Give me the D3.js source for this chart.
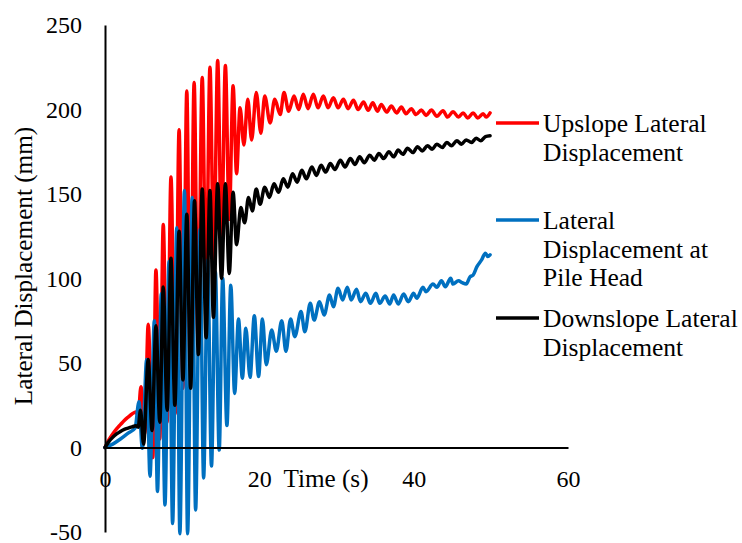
<!DOCTYPE html>
<html>
<head>
<meta charset="utf-8">
<script src="https://cdn.jsdelivr.net/npm/d3@7"></script>
<style>
  html, body { margin: 0; padding: 0; background: #fff; }
  svg { display: block; }
  svg text { font-family: "Liberation Serif", "Times New Roman", Times, "DejaVu Serif", serif !important; fill: #000; }
</style>
</head>
<body>
<div id="chart"></div>
<script>
// ---- Data (extrema of the oscillations) ----
const timeTicks = [0, 20, 40, 60];
const dispTicks = [-50, 0, 50, 100, 150, 200, 250];

const seriesNames = ["Upslope Lateral Displacement", "Lateral Displacement at Pile Head", "Downslope Lateral Displacement"];
const seriesColors = ["#FF0000", "#0070C0", "#000000"];

const upslopeT = [0,0.5,1,1.5,2,2.5,3,3.5,4,4.3,4.66,5.15,5.6,6.2,6.6,7.1,7.55,8.05,8.55,9.1,9.6,10.1,10.6,11.05,11.55,12.05,12.6,13.1,13.6,14.1,14.6,15.1,15.6,16.1,16.6,17.05,17.5,18.0,18.5,19.0,19.6,20.2,20.7,21.4,22.0,22.7,23.2,23.8,24.5,25.1,25.7,26.3,27.0,27.6,28.3,28.9,29.6,30.2,30.9,31.5,32.2,32.8,33.5,34.1,34.7,35.3,35.8,36.5,37.1,37.8,38.4,39.0,39.7,40.3,41.0,41.6,42.3,43.0,43.8,44.4,45.1,45.8,46.4,47.0,47.7,48.3,49.0,49.4,49.9];
const upslopeV = [0,4.5,8,11,13.5,16,18,19.8,21,19,36,8,73,-6,105,5,132,15,160,20,188,35,211,45,216,65,219,90,225,110,229,122,226,135,214,162,201,179,206,182,210,186,208,192,206,197,210,199,208,200,209,200.5,209,201,208,201,207,201,206,200.5,205.5,200,204.5,199.5,204,199,203,198.5,202,198,201.5,197.5,200.5,197,199.7,196.5,199.7,196,199.3,195.5,198.7,195.5,198,195,198,195,197.5,195.5,198];

const pileHeadT = [0,1,2,3,3.9,4.4,4.84,5.4,5.83,6.4,6.8,7.3,7.77,8.3,8.76,9.3,9.7,10.3,10.7,11.3,11.74,12.3,12.78,13.3,13.8,14.3,14.8,15.25,15.8,16.3,16.8,17.3,17.8,18.25,18.8,19.35,19.9,20.4,20.9,21.6,22.2,22.9,23.45,24.05,24.6,25.4,25.9,26.6,27.1,27.8,28.4,29.1,29.6,30.2,30.8,31.4,31.9,32.6,33.1,33.8,34.4,35.1,35.6,36.3,36.9,37.4,38.0,38.7,39.3,40.0,40.4,41.2,41.6,42.5,43.0,43.6,44.1,44.8,45.1,45.8,46.3,46.8,47.3,47.7,48.2,48.8,49.3,49.6,49.9];
const pileHeadV = [0,2,5,8.5,11.5,27,-0.5,52,-17,75,-26,91,-34,110,-45,130,-51,152,-51,148,-37,129,-18,111,-11,104,-1.5,100,13,96,32,76,41,70.5,41.5,78,42,76,49,69.5,57,75,57,76,65.6,80.4,68.5,85.3,75.4,86.3,78.4,90.2,83.3,94.2,87.3,94.8,87.3,93.6,86.3,91.2,85.3,91.2,85.3,89.6,84.9,90.2,84.9,90.8,86.3,91.2,88.3,94.8,92.2,96.7,94.8,98.7,95.1,100.1,96.7,98.7,97.5,96.7,101,102,107,111,115,113,114];

const downslopeT = [0,0.5,1,1.5,2,2.5,3,3.5,4,4.3,4.6,5.0,5.6,6.1,6.6,7.1,7.55,8.05,8.55,9.05,9.6,10.1,10.6,11.1,11.6,12.1,12.6,13.1,13.6,14.05,14.6,15.1,15.6,16.1,16.6,17.05,17.6,18.1,18.6,19.1,19.6,20.1,20.7,21.3,21.9,22.5,23.1,23.7,24.3,24.9,25.5,26.1,26.8,27.4,28.0,28.6,29.2,29.8,30.5,31.1,31.8,32.4,33.0,33.6,34.3,34.9,35.5,36.1,36.8,37.4,38.0,38.6,39.2,39.9,40.5,41.1,41.8,42.4,43.0,43.7,44.3,44.9,45.6,46.2,46.8,47.5,48.1,48.7,49.3,49.9];
const downslopeV = [0,3.5,6,8,9.5,10.7,11.5,12.2,12.8,12,22,2,52,10,72,15,95,22,112,25,128,40,138,35,146,55,153,65,152,77,156,100,156,103,151,120,142,133,148,140,153,144,154,148,156,151,159,154,162,157,164,159,166,161,167,163,168,164.5,170,166,171,167.5,172,168.5,173,170,174,171,175,172,176,173.5,177,174.5,178,175.5,178.5,176.5,179.5,177.5,180.5,178.5,181.5,179.5,182,180.5,183,181.5,184,184.5];

// ---- Chart ----
const FONT = '"Liberation Serif", "Times New Roman", Times, "DejaVu Serif", serif';
const W = 742, H = 543;
const svg = d3.select("#chart").append("svg").attr("width", W).attr("height", H)
  .attr("font-family", FONT);
svg.append("rect").attr("width", W).attr("height", H).attr("fill", "#fff");

const x = d3.scaleLinear().domain([0, 60]).range([105, 568]);
const y = d3.scaleLinear().domain([-50, 250]).range([532, 25]);

const zip = (T, V) => T.map((t, i) => [t, V[i]]);
const series = [zip(upslopeT, upslopeV), zip(pileHeadT, pileHeadV), zip(downslopeT, downslopeV)];

const line = d3.line().x(d => x(d[0])).y(d => y(d[1])).curve(d3.curveMonotoneX);

const gLines = svg.append("g");
series.forEach((s, i) => {
  gLines.append("path").datum(s)
    .attr("d", line)
    .attr("fill", "none")
    .attr("stroke", seriesColors[i])
    .attr("stroke-width", 3.5)
    .attr("stroke-linejoin", "round")
    .attr("stroke-linecap", "round");
});

// Axes
const yAxis = d3.axisLeft(y).tickValues(dispTicks).tickSize(0).tickPadding(23).tickFormat(d => String(d));
const gy = svg.append("g").attr("transform", `translate(${x(0)},0)`).call(yAxis);
const xAxis = d3.axisBottom(x).tickValues(timeTicks).tickSize(0).tickPadding(22).tickFormat(d => String(d));
const gx = svg.append("g").attr("transform", `translate(0,${y(0)})`).call(xAxis);

[gx, gy].forEach(g => {
  g.attr("font-family", FONT).attr("font-size", 24);
  g.select(".domain").attr("stroke", "#000").attr("stroke-width", 2);
  g.selectAll("text").attr("font-family", FONT).attr("font-size", 24).attr("fill", "#000");
});

// Axis titles
svg.append("text")
  .attr("transform", `translate(32,266) rotate(-90)`)
  .attr("text-anchor", "middle")
  .attr("font-family", FONT)
  .attr("font-size", 25.2)
  .text("Lateral Displacement (mm)");

svg.append("text")
  .attr("x", 326).attr("y", 487)
  .attr("text-anchor", "middle")
  .attr("font-family", FONT)
  .attr("font-size", 25.2)
  .text("Time (s)");

// Legend
const legendItems = [
  { color: seriesColors[0], y: 123, lines: ["Upslope Lateral", "Displacement"] },
  { color: seriesColors[1], y: 220, lines: ["Lateral", "Displacement at", "Pile Head"] },
  { color: seriesColors[2], y: 318, lines: ["Downslope Lateral", "Displacement"] }
];
const gLeg = svg.append("g");
legendItems.forEach(it => {
  gLeg.append("line").attr("x1", 496).attr("x2", 539).attr("y1", it.y).attr("y2", it.y)
    .attr("stroke", it.color).attr("stroke-width", 3.5);
  const t = gLeg.append("text").attr("x", 543).attr("y", it.y + 9)
    .attr("font-family", FONT).attr("font-size", 25.5);
  it.lines.forEach((l, k) => {
    t.append("tspan").attr("x", 543).attr("dy", k === 0 ? 0 : 28.6).text(l);
  });
});
</script>
</body>
</html>
